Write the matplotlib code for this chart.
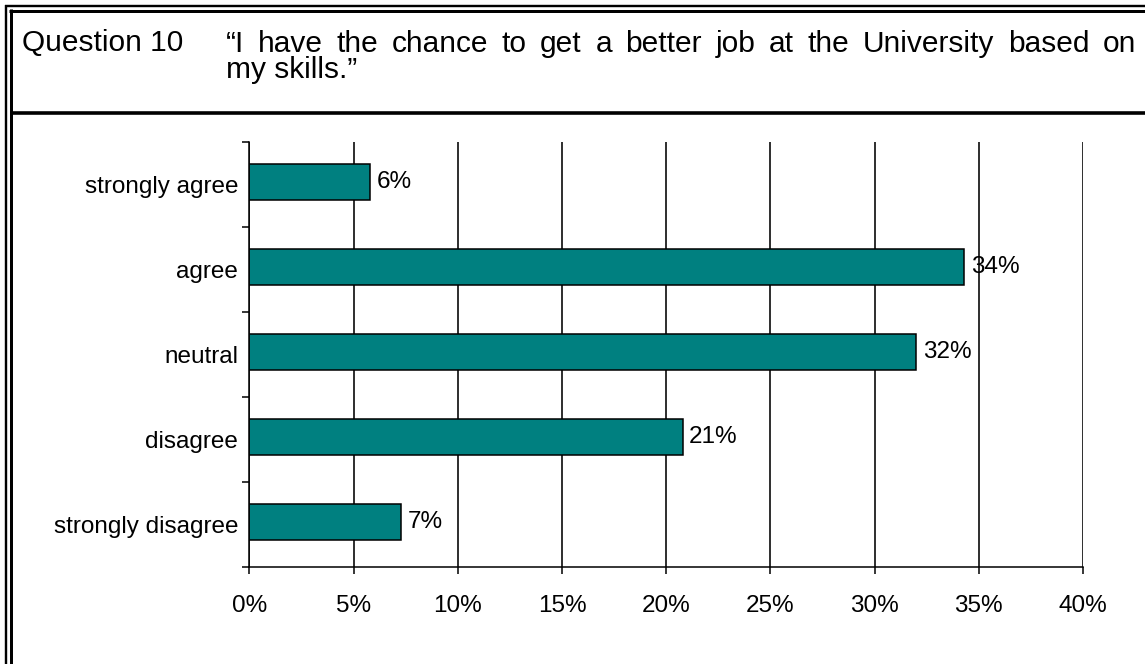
import matplotlib
matplotlib.use("Agg")
import matplotlib.pyplot as plt
from matplotlib.lines import Line2D
from matplotlib.ticker import PercentFormatter, FixedLocator, MultipleLocator

plt.rcParams['font.family'] = ['Liberation Sans', 'DejaVu Sans']

# Survey responses (share of respondents, %)
categories = ["strongly agree", "agree", "neutral", "disagree", "strongly disagree"]
shares = [5.8, 34.3, 32.0, 20.8, 7.3]

question_no = "Question 10"
question_line1 = "\u201cI have the chance to get a better job at the University based on"
question_line2 = "my skills.\u201d"

W, H = 1145, 664
fig = plt.figure(figsize=(W / 100, H / 100), dpi=100)
fig.patch.set_facecolor("white")


def fx(x):
    return x / W


def fy(y):
    return 1 - y / H


def pt(px):
    return px * 72 / 100


# Page frame: double rule on top and left, single rule under the header
frame = [
    ((6.3, 6.3), (5.2, H), 2.4),
    ((10.6, 10.6), (9.3, H), 3.0),
    ((5.2, W), (6.2, 6.2), 2.4),
    ((9.3, W), (10.5, 10.5), 3.0),
    ((10.6, W), (112.6, 112.6), 3.6),
]
for xs, ys, lw in frame:
    fig.add_artist(Line2D([fx(v) for v in xs], [fy(v) for v in ys],
                          transform=fig.transFigure, color="black",
                          linewidth=pt(lw), solid_capstyle="butt"))

# Header text
hdr_size = 21.5
fig.text(fx(22), fy(51.5), question_no, fontsize=hdr_size, ha="left", va="baseline")

# First line of the quote is justified between the two margins
left_px, right_px = 226, 1136
words = question_line1.split()
word_texts = [fig.text(0, fy(51.5), w, fontsize=hdr_size, ha="left", va="baseline")
              for w in words]
fig.canvas.draw()
renderer = fig.canvas.get_renderer()
widths = [t.get_window_extent(renderer).width for t in word_texts]
gap = (right_px - left_px - sum(widths)) / (len(words) - 1)
x = left_px
for t, w in zip(word_texts, widths):
    t.set_x(fx(x))
    x += w + gap
fig.text(fx(left_px), fy(78), question_line2, fontsize=hdr_size,
         ha="left", va="baseline")

# Bar chart
x0, x1 = 249.3, 1083.0
y_top, y_bot = 142.0, 567.0
ax = fig.add_axes([fx(x0), fy(y_bot), fx(x1 - x0), (y_bot - y_top) / H])

positions = list(range(len(categories)))
bar_pos = [p - 0.03 for p in positions]
bars = ax.barh(bar_pos, shares, height=0.42, color="#008080",
               edgecolor="black", linewidth=1.1, zorder=3)

ax.set_xlim(0, 40)
ax.set_ylim(len(categories) - 0.5, -0.5)

ax.xaxis.set_major_locator(MultipleLocator(5))
ax.xaxis.set_major_formatter(PercentFormatter(xmax=100, decimals=0))
ax.grid(axis="x", color="black", linewidth=1.15, zorder=1)
ax.set_axisbelow(True)

# Category boundaries carry the ticks; labels sit at the category centres
ax.yaxis.set_major_locator(FixedLocator([p - 0.5 for p in positions] + [positions[-1] + 0.5]))
ax.yaxis.set_major_formatter(plt.NullFormatter())
ax.yaxis.set_minor_locator(FixedLocator(positions))
ax.set_yticklabels(categories, minor=True)

lab_size = 17.5
ax.tick_params(axis="y", which="major", direction="out", length=5, width=1.1)
ax.tick_params(axis="y", which="minor", length=0, pad=8, labelsize=lab_size)
ax.tick_params(axis="x", which="major", direction="out", length=5, width=1.1,
               pad=15, labelsize=lab_size)

for side in ("top", "right"):
    ax.spines[side].set_visible(False)
for side in ("left", "bottom"):
    ax.spines[side].set_linewidth(1.1)
    ax.spines[side].set_zorder(4)

for rect, v in zip(bars, shares):
    ax.annotate(f"{v:.0f}%", xy=(v, rect.get_y() + rect.get_height() / 2),
                xytext=(4.6, 0), textcoords="offset points",
                ha="left", va="center", fontsize=lab_size, zorder=5)

fig.savefig("out.png", dpi=100, facecolor="white")
